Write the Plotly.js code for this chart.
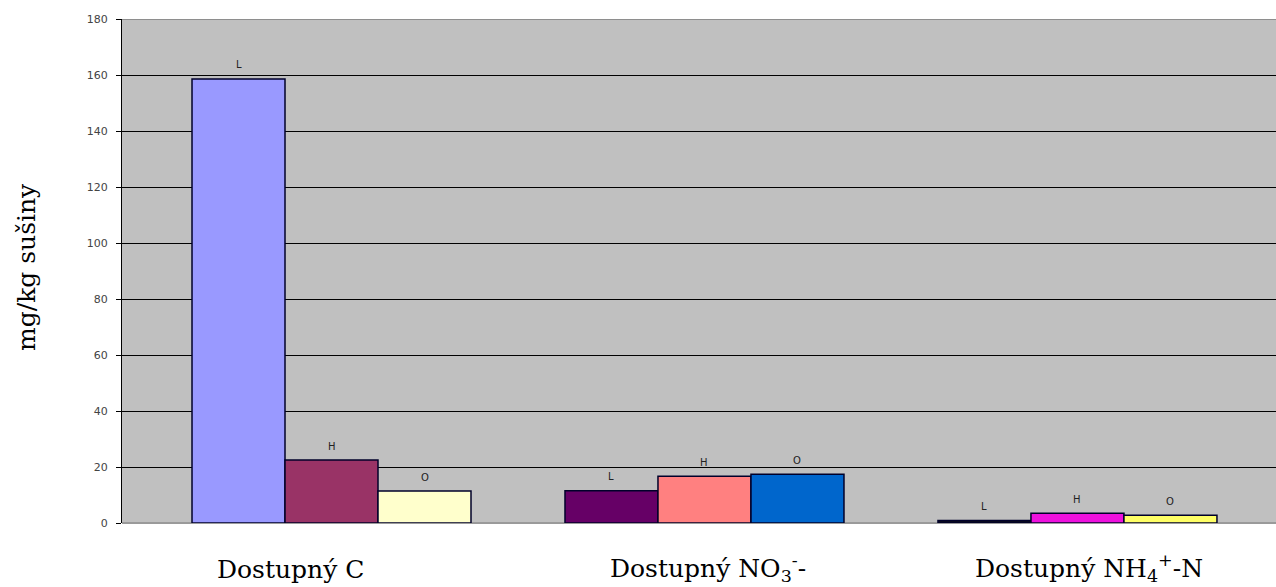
<!DOCTYPE html>
<html>
<head>
<meta charset="utf-8">
<script src="https://cdn.plot.ly/plotly-3.0.1.min.js"></script>
<style>
  html, body { margin: 0; padding: 0; background: #ffffff; }
  #chart { width: 1276px; height: 587px; }
</style>
</head>
<body>
<div id="chart"></div>
<script>
// Available nutrients (mg per kg of dry matter) for three sample groups
const categories = ['Dostupný C', 'Dostupný NO<sub>3</sub><sup>-</sup>-', 'Dostupný NH<sub>4</sub><sup>+</sup>-N'];
const seriesNames = ['L', 'H', 'O'];
const valuesL = [158.6, 11.5, 0.9];
const valuesH = [22.5, 16.7, 3.5];
const valuesO = [11.4, 17.4, 2.8];
const colorsL = ['#9999ff', '#660066', '#0a0a1a'];
const colorsH = ['#993366', '#ff8080', '#ee11dd'];
const colorsO = ['#ffffcc', '#0066cc', '#ffff66'];
const yTicks = [0, 20, 40, 60, 80, 100, 120, 140, 160, 180];

const xIdx = categories.map((_, i) => i);
const allValues = [valuesL, valuesH, valuesO];
const allColors = [colorsL, colorsH, colorsO];

const bargap = 0.252;
const barWidth = (1 - bargap) / 3;

const traces = seriesNames.map((name, s) => ({
  type: 'bar',
  name: name,
  x: xIdx,
  y: allValues[s],
  marker: { color: allColors[s], line: { color: '#00002a', width: 1.5 } },
  hoverinfo: 'skip'
}));

// series letter above each bar
const annotations = [];
seriesNames.forEach((name, s) => {
  allValues[s].forEach((v, i) => {
    annotations.push({
      x: i + (s - 1) * barWidth, xref: 'x',
      y: v, yref: 'y',
      text: name, showarrow: false,
      yanchor: 'middle', yshift: 14,
      font: { family: 'DejaVu Sans', size: 10, color: '#222' }
    });
  });
});

// category captions below the plot
const captionShiftX = [-41, 4, 12];
const captionShiftY = [-30, -25, -25];
categories.forEach((c, i) => {
  annotations.push({
    x: i, xref: 'x', xshift: captionShiftX[i],
    y: 0, yref: 'paper', yanchor: 'top', yshift: captionShiftY[i],
    text: c, showarrow: false,
    font: { family: 'DejaVu Serif', size: 25, color: '#000' }
  });
});

// vertical axis caption
annotations.push({
  x: 0, xref: 'paper', xshift: -95,
  y: 0.508, yref: 'paper',
  text: 'mg/kg sušiny', textangle: -90, showarrow: false,
  xanchor: 'center', yanchor: 'middle',
  font: { family: 'DejaVu Serif', size: 25, color: '#000' }
});

const layout = {
  width: 1276, height: 587,
  margin: { l: 122, r: 0, t: 19, b: 64 },
  paper_bgcolor: '#ffffff',
  plot_bgcolor: '#c0c0c0',
  barmode: 'group',
  bargap: bargap,
  bargroupgap: 0,
  showlegend: false,
  xaxis: {
    range: [-0.5617, 2.5323],
    showticklabels: false, ticks: '', showgrid: false, zeroline: false,
    showline: false, fixedrange: true
  },
  yaxis: {
    range: [0, 180],
    tickvals: yTicks,
    ticktext: yTicks.map(String),
    ticks: 'outside', ticklen: 5, tickwidth: 1, tickcolor: '#000',
    ticklabelstandoff: 6,
    tickfont: { family: 'DejaVu Sans', size: 11, color: '#444' },
    showgrid: true, gridcolor: '#000000', gridwidth: 1,
    zeroline: true, zerolinecolor: '#9a9a9a', zerolinewidth: 2,
    showline: true, linecolor: '#000', linewidth: 1,
    fixedrange: true
  },
  shapes: [{
    type: 'line', xref: 'paper', yref: 'y',
    x0: 0, x1: 1, y0: 180, y1: 180,
    line: { color: '#8e8e8e', width: 2 }
  }],
  annotations: annotations
};

Plotly.newPlot('chart', traces, layout, { displayModeBar: false, staticPlot: true });
</script>
</body>
</html>
